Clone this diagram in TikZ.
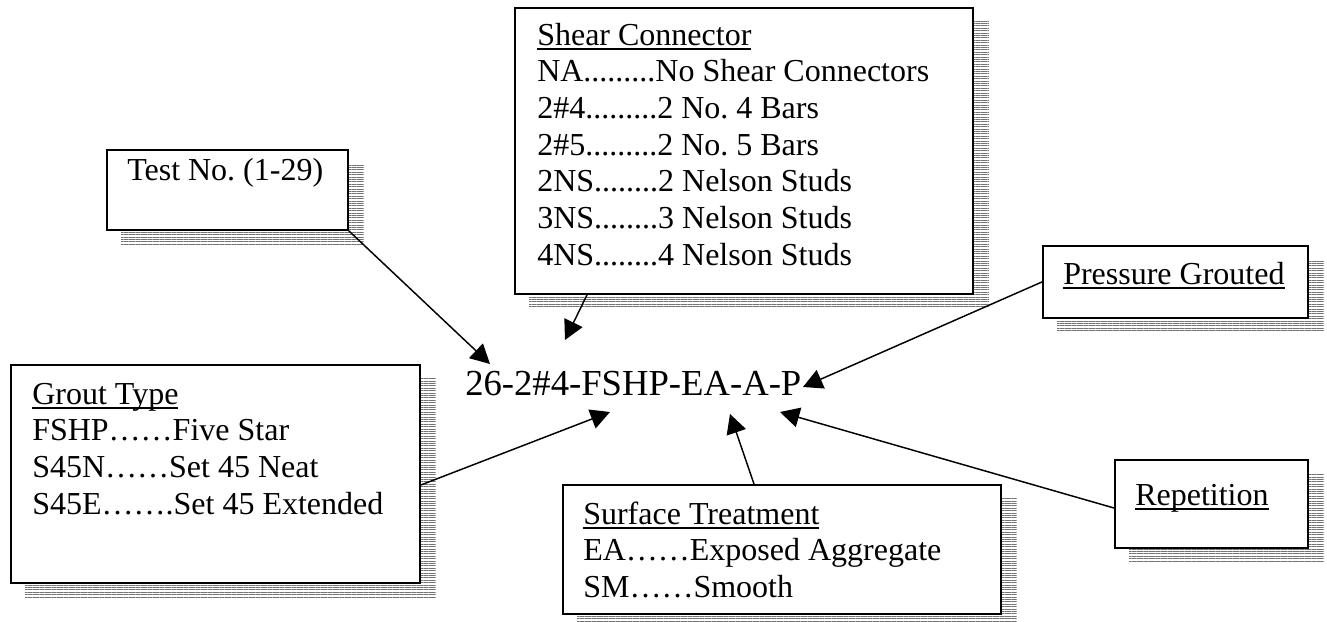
\documentclass[tikz,border=0pt]{standalone}
\usepackage{fontspec}
\setmainfont{Liberation Serif}
\usetikzlibrary{arrows.meta,patterns.meta,backgrounds,calc}
\frenchspacing
\newsavebox\ulbox
\newcommand{\myul}[1]{\leavevmode\sbox\ulbox{#1}\rlap{\rule[-3.6pt]{\wd\ulbox}{1.1pt}}\usebox\ulbox}
\tikzset{
  box/.style={draw, line width=1.4pt, fill=white, inner sep=0pt, anchor=north west},
  txt/.style={anchor=base west, inner sep=0pt, font=\fontsize{24pt}{27.5pt}\selectfont},
  shade/.style={pattern={Lines[angle=0,distance=1.8pt,line width=0.55pt]}, pattern color=black!55},
  arr/.style={line width=1.1pt, -{Triangle[length=14.5pt,width=15pt]}},
}
\begin{document}
\begin{tikzpicture}[x=0.75pt,y=-0.75pt]
\useasboundingbox (0,0) rectangle (1327,621);

% boxes
\node (test)  [box, minimum width=180.75pt, minimum height=60pt]   at (106,149) {};
\node (shear) [box, minimum width=343.5pt,  minimum height=214.5pt] at (514,7) {};
\node (grout) [box, minimum width=306.75pt, minimum height=163.5pt] at (10,364) {};
\node (surf)  [box, minimum width=328.5pt,  minimum height=96.75pt] at (562,484) {};
\node (press) [box, minimum width=198.75pt, minimum height=54pt]    at (1042,245) {};
\node (rep)   [box, minimum width=144.75pt, minimum height=66pt]    at (1114,459) {};

% texts
\node (testtxt)  [txt] at (127,180) {Test No. (1-29)};
\node (sheartxt) [txt] at (537,45) {\parbox[t]{330pt}{\myul{Shear Connector}\\
NA.........No Shear Connectors\\
2\#4.........2 No. 4 Bars\\
2\#5.........2 No. 5 Bars\\
2NS........2 Nelson Studs\\
3NS........3 Nelson Studs\\
4NS........4 Nelson Studs}};
\node (grouttxt) [txt] at (32,404) {\parbox[t]{290pt}{\myul{Grout Type}\\
FSHP……Five Star\\
S45N……Set 45 Neat\\
S45E…….Set 45 Extended}};
\node (surftxt)  [txt] at (583,524) {\parbox[t]{300pt}{\myul{Surface Treatment}\\
EA……Exposed Aggregate\\
SM……Smooth}};
\node (presstxt) [txt] at (1063,284) {\myul{Pressure Grouted}};
\node (reptxt)   [txt] at (1135,505) {\myul{Repetition}};

% central code
\node (code) [anchor=base west, inner sep=0pt, font=\fontsize{27.5pt}{30pt}\selectfont] at (465,395) {26-2\#4-FSHP-EA-A-P};

% arrow tips
\coordinate (tTest)  at (490,364);
\coordinate (tShear) at (565,340);
\coordinate (tGrout) at (610,412);
\coordinate (tSurf)  at (730,414);
\coordinate (tRep)   at (780,412);
\coordinate (tPress) at (803,387);

\draw[arr] (test.south east) -- (tTest);
\draw[arr] ($(shear.south west)+(73,0)$) -- (tShear);
\draw[arr] ($(grout.north east)+(0,121)$) -- (tGrout);
\draw[arr] ($(surf.north west)+(192,0)$) -- (tSurf);
\draw[arr] ($(rep.north west)+(0,49)$) -- (tRep);
\draw[arr] (press.west) -- (tPress);

% shadows
\begin{scope}[on background layer]
  \fill[white] (0,0) rectangle (1327,621);
  \foreach \b in {test,shear,grout,surf,press,rep}{
    \fill[shade] ($(\b.north west)+(15,14)$) rectangle ($(\b.south east)+(15,14)$);
  }
\end{scope}
\end{tikzpicture}
\end{document}
